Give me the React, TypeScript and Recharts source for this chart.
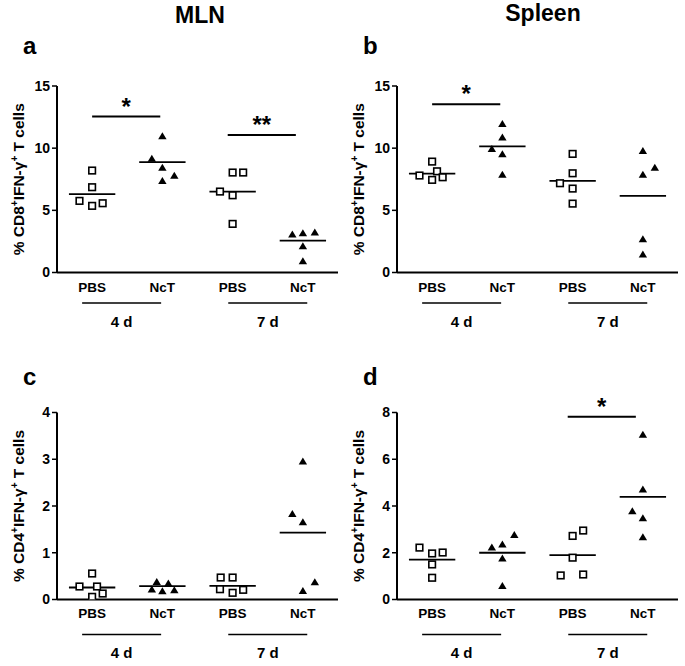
import React from 'react';
import { ScatterChart, Scatter, XAxis, YAxis, ReferenceLine, Label } from 'recharts';

const FONT = '"Liberation Sans", Arial, Helvetica, sans-serif';

const CATEGORIES = ['PBS', 'NcT', 'PBS', 'NcT'];
const CAT_TICKS = [0.5, 1.5, 2.5, 3.5];
const DAYS = ['4 d', '7 d'];
const GROUP_TICKS = [0.92, 3];

// a: MLN, CD8+ IFN-γ+
const A_PBS4 = [8.2, 6.86, 5.76, 5.36, 5.57];
const A_PBS4_DX = [0, 0, -0.18, 0, 0.15];
const A_NCT4 = [11.0, 9.19, 8.46, 7.82, 7.39];
const A_NCT4_DX = [0, -0.15, 0, 0.17, 0];
const A_PBS7 = [8.04, 8.04, 6.51, 6.21, 3.91];
const A_PBS7_DX = [0, 0.15, -0.18, 0, 0];
const A_NCT7 = [3.08, 3.19, 3.24, 2.14, 0.94];
const A_NCT7_DX = [-0.15, 0, 0.17, 0, 0];
const A_MEANS = [6.3, 8.87, 6.51, 2.57];

// b: Spleen, CD8+ IFN-γ+
const B_PBS4 = [8.92, 7.8, 8.14, 7.45, 7.66];
const B_PBS4_DX = [0, -0.18, 0.07, 0, 0.15];
const B_NCT4 = [11.97, 10.9, 9.97, 9.54, 7.9];
const B_NCT4_DX = [0, 0, -0.15, 0, 0];
const B_PBS7 = [9.54, 7.98, 7.18, 6.75, 5.54];
const B_PBS7_DX = [0, 0, -0.18, 0, 0];
const B_NCT7 = [9.8, 8.46, 7.9, 2.7, 1.47];
const B_NCT7_DX = [0, 0.17, 0, 0, 0];
const B_MEANS = [7.96, 10.15, 7.37, 6.16];

// c: MLN, CD4+ IFN-γ+
const C_PBS4 = [0.556, 0.278, 0.278, 0.128, 0.057];
const C_PBS4_DX = [0, -0.18, 0.07, 0.15, 0];
const C_NCT4 = [0.385, 0.35, 0.22, 0.185, 0.207];
const C_NCT4_DX = [-0.08, 0.085, -0.15, 0, 0.17];
const C_PBS7 = [0.47, 0.47, 0.22, 0.143, 0.207];
const C_PBS7_DX = [-0.17, 0, -0.18, 0, 0.15];
const C_NCT7 = [2.96, 1.84, 1.66, 0.38, 0.19];
const C_NCT7_DX = [0, -0.15, 0, 0.17, 0];
const C_MEANS = [0.257, 0.285, 0.29, 1.43];

// d: Spleen, CD4+ IFN-γ+
const D_PBS4 = [2.22, 1.97, 2.01, 1.5, 0.93];
const D_PBS4_DX = [-0.18, 0, 0.15, 0, 0];
const D_NCT4 = [2.78, 2.24, 2.37, 1.77, 0.59];
const D_NCT4_DX = [0.17, -0.15, 0, 0, 0];
const D_PBS7 = [2.95, 2.72, 1.79, 1.03, 1.07];
const D_PBS7_DX = [0.15, 0, 0, -0.17, 0.15];
const D_NCT7 = [7.06, 4.72, 3.79, 3.49, 2.68];
const D_NCT7_DX = [0, 0, -0.15, 0, 0];
const D_MEANS = [1.71, 2.0, 1.9, 4.39];

// significance bars: [from, to, y, label]
const A_SIG: [number, number, number, string][] = [
  [0.5, 1.47, 12.54, '*'],
  [2.43, 3.4, 11.06, '**'],
];
const B_SIG: [number, number, number, string][] = [[0.5, 1.47, 13.53, '*']];
const C_SIG: [number, number, number, string][] = [];
const D_SIG: [number, number, number, string][] = [[2.43, 3.4, 7.82, '*']];

const toPoints = (center: number, ys: number[], dx: number[]) =>
  ys.map((y, i) => ({ x: center + dx[i], y }));

const Square = (props: any) => {
  const { cx, cy } = props;
  return <rect x={cx - 3.3} y={cy - 3.3} width={6.6} height={6.6} fill="#fff" stroke="#000" strokeWidth={1.6} />;
};

const Triangle = (props: any) => {
  const { cx, cy } = props;
  return <polygon points={`${cx},${cy - 3.6} ${cx - 4.2},${cy + 3.4} ${cx + 4.2},${cy + 3.4}`} fill="#000" />;
};

const YLabel = (props: any) => {
  const { viewBox, cd } = props;
  const cx = 24;
  const cy = viewBox.y + viewBox.height / 2;
  return (
    <text x={cx} y={cy} transform={`rotate(-90, ${cx}, ${cy})`} textAnchor="middle"
      fontFamily={FONT} fontSize={15.5} fontWeight="bold" fill="#000">
      {`% ${cd}`}
      <tspan dy={-6} fontSize={10}>+</tspan>
      <tspan dy={6}>IFN-γ</tspan>
      <tspan dy={-6} fontSize={10}>+</tspan>
      <tspan dy={6}>{' T cells'}</tspan>
    </text>
  );
};

// category label, plus the day bracket under each PBS/NcT pair
const CatTick = (props: any) => {
  const { x, y, payload, width, lineDy, dayDy } = props;
  const i = CAT_TICKS.indexOf(payload.value);
  const unit = (typeof width === 'number' && width > 0 ? width : 281) / 4;
  const gi = i / 2;
  const gx = i % 2 === 0 ? x + unit * (GROUP_TICKS[gi] - CAT_TICKS[i]) : 0;
  return (
    <g>
      <text x={x} y={y} dy="0.71em" textAnchor="middle" fontFamily={FONT} fontSize={13.5} fontWeight="bold" fill="#000">
        {CATEGORIES[i]}
      </text>
      {i % 2 === 0 && (
        <g>
          <line x1={gx - 39.5} x2={gx + 39.5} y1={y + lineDy} y2={y + lineDy} stroke="#000" strokeWidth={1.5} />
          <text x={gx} y={y + dayDy} textAnchor="middle" fontFamily={FONT} fontSize={15} fontWeight="bold" fill="#000">
            {DAYS[gi]}
          </text>
        </g>
      )}
    </g>
  );
};

interface PanelProps {
  groups: { x: number; y: number }[][];
  means: number[];
  sig: [number, number, number, string][];
  yMax: number;
  yTicks: number[];
  cd: string;
  marginTop: number;
  marginBottom: number;
  tickMargin: number;
  lineDy: number;
  dayDy: number;
}

const Panel = ({ groups, means, sig, yMax, yTicks, cd, marginTop, marginBottom, tickMargin, lineDy, dayDy }: PanelProps) => (
  <ScatterChart width={345} height={340} margin={{ top: marginTop, right: 7, left: 27, bottom: marginBottom }}>
    <XAxis type="number" dataKey="x" domain={[0, 4]} ticks={CAT_TICKS} interval={0} allowDataOverflow
      axisLine={{ stroke: '#000', strokeWidth: 2 }} tickLine={false} tickSize={6} tickMargin={tickMargin} height={60}
      tick={<CatTick lineDy={lineDy} dayDy={dayDy} />} />
    <YAxis type="number" dataKey="y" domain={[0, yMax]} ticks={yTicks} interval={0} allowDataOverflow width={30}
      axisLine={{ stroke: '#000', strokeWidth: 2 }} tickLine={{ stroke: '#000', strokeWidth: 1.5 }}
      tickSize={5} tickMargin={2}
      tick={{ fill: '#000', fontSize: 14, fontWeight: 'bold', fontFamily: FONT }}>
      <Label content={<YLabel cd={cd} />} />
    </YAxis>
    {groups.map((pts, gi) => (
      <Scatter key={gi} data={pts} isAnimationActive={false} shape={gi % 2 === 0 ? Square : Triangle} />
    ))}
    {means.map((m, i) => (
      <ReferenceLine key={`m${i}`} segment={[{ x: CAT_TICKS[i] - 0.33, y: m }, { x: CAT_TICKS[i] + 0.33, y: m }]}
        stroke="#000" strokeWidth={1.8} />
    ))}
    {sig.map(([a, b, y, txt], i) => (
      <ReferenceLine key={`s${i}`} segment={[{ x: a, y }, { x: b, y }]} stroke="#000" strokeWidth={2}
        label={{ value: txt, position: 'top', offset: 2, fill: '#000', fontSize: 24, fontWeight: 'bold', fontFamily: FONT }} />
    ))}
  </ScatterChart>
);

export default function App() {
  const a = [
    toPoints(0.5, A_PBS4, A_PBS4_DX), toPoints(1.5, A_NCT4, A_NCT4_DX),
    toPoints(2.5, A_PBS7, A_PBS7_DX), toPoints(3.5, A_NCT7, A_NCT7_DX),
  ];
  const b = [
    toPoints(0.5, B_PBS4, B_PBS4_DX), toPoints(1.5, B_NCT4, B_NCT4_DX),
    toPoints(2.5, B_PBS7, B_PBS7_DX), toPoints(3.5, B_NCT7, B_NCT7_DX),
  ];
  const c = [
    toPoints(0.5, C_PBS4, C_PBS4_DX), toPoints(1.5, C_NCT4, C_NCT4_DX),
    toPoints(2.5, C_PBS7, C_PBS7_DX), toPoints(3.5, C_NCT7, C_NCT7_DX),
  ];
  const d = [
    toPoints(0.5, D_PBS4, D_PBS4_DX), toPoints(1.5, D_NCT4, D_NCT4_DX),
    toPoints(2.5, D_PBS7, D_PBS7_DX), toPoints(3.5, D_NCT7, D_NCT7_DX),
  ];
  const textStyle = { fontFamily: FONT, fontWeight: 'bold' as const, fill: '#000' };
  return (
    <div style={{ position: 'absolute', left: 0, top: 0, width: 685, height: 666, background: '#fff', overflow: 'hidden' }}>
      <div style={{ position: 'absolute', left: 0, top: 0 }}>
        <Panel groups={a} means={A_MEANS} sig={A_SIG} yMax={15} yTicks={[0, 5, 10, 15]} cd="CD8"
          marginTop={86} marginBottom={7.5} tickMargin={4} lineDy={20.5} dayDy={44.5} />
      </div>
      <div style={{ position: 'absolute', left: 340, top: 0 }}>
        <Panel groups={b} means={B_MEANS} sig={B_SIG} yMax={15} yTicks={[0, 5, 10, 15]} cd="CD8"
          marginTop={86} marginBottom={7.5} tickMargin={4} lineDy={20.5} dayDy={44.5} />
      </div>
      <div style={{ position: 'absolute', left: 0, top: 326 }}>
        <Panel groups={c} means={C_MEANS} sig={C_SIG} yMax={4} yTicks={[0, 1, 2, 3, 4]} cd="CD4"
          marginTop={86.5} marginBottom={6.5} tickMargin={3} lineDy={26} dayDy={49} />
      </div>
      <div style={{ position: 'absolute', left: 340, top: 326 }}>
        <Panel groups={d} means={D_MEANS} sig={D_SIG} yMax={8} yTicks={[0, 2, 4, 6, 8]} cd="CD4"
          marginTop={86.5} marginBottom={6.5} tickMargin={3} lineDy={26} dayDy={49} />
      </div>
      <svg width={685} height={666} style={{ position: 'absolute', left: 0, top: 0, pointerEvents: 'none' }}>
        <text x={200} y={23} textAnchor="middle" fontSize={23} {...textStyle}>MLN</text>
        <text x={543} y={21} textAnchor="middle" fontSize={23} {...textStyle}>Spleen</text>
        <text x={23} y={54} fontSize={24} {...textStyle}>a</text>
        <text x={363} y={54} fontSize={24} {...textStyle}>b</text>
        <text x={23} y={385} fontSize={24} {...textStyle}>c</text>
        <text x={363} y={385} fontSize={24} {...textStyle}>d</text>
      </svg>
    </div>
  );
}
